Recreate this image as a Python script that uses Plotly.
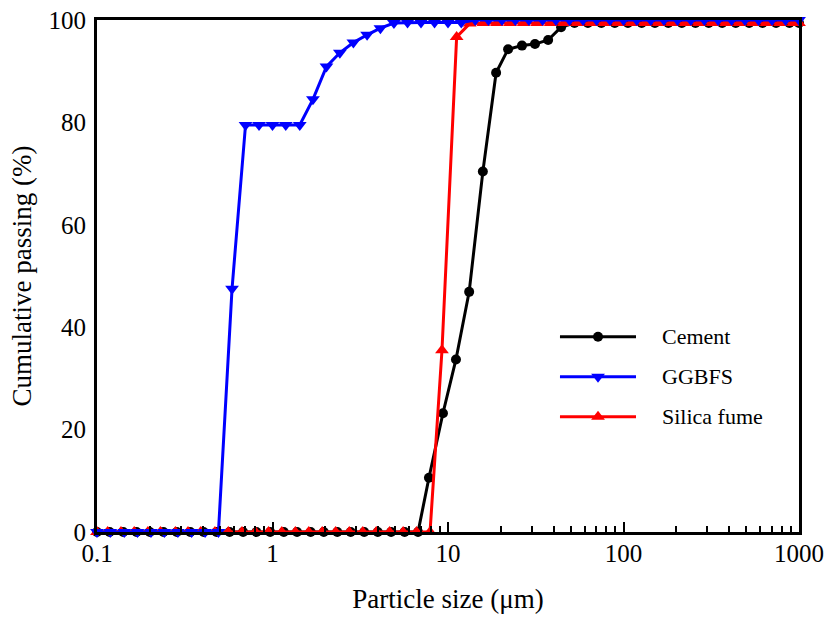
import plotly.graph_objects as go

# ---------------- data ----------------
cement_size = [0.1, 0.118, 0.141, 0.168, 0.200, 0.239, 0.285, 0.340, 0.405, 0.48,
               0.57, 0.68, 0.81, 0.97, 1.16, 1.38, 1.65, 1.96, 2.34, 2.79,
               3.33, 3.98, 4.74, 5.66, 6.75, 7.79, 9.36, 11.1, 13.2, 15.8,
               18.8, 22.0, 26.4, 31.3, 37.2, 44.1, 52.6, 62.7, 74.8, 89.2,
               106, 127, 151, 180, 215, 257, 306, 365, 436, 520,
               620, 740, 882, 1000]
cement_pass = [0] * 25 + [10.6, 23.2, 33.7, 46.9, 70.4, 89.7, 94.3, 95.0, 95.3, 96.1,
                          98.6, 99.4] + [99.4] * 17

ggbfs_size = [0.1, 0.119, 0.143, 0.170, 0.203, 0.242, 0.289, 0.346, 0.413, 0.492,
              0.588, 0.702, 0.838, 1.00, 1.19, 1.43, 1.70, 2.03, 2.42, 2.89,
              3.46, 4.12, 4.92, 5.88, 7.02, 8.38, 10.0, 11.9, 14.3, 17.0,
              20.3, 24.2, 28.9, 34.6, 41.2, 49.2, 58.8, 70.2, 83.8, 100,
              119, 143, 170, 203, 242, 289, 346, 413, 492, 588,
              702, 838, 1000]
ggbfs_pass = [0] * 10 + [47.5, 79.5, 79.5, 79.5, 79.5, 79.5, 84.5, 90.9, 93.6, 95.6,
                         97.1, 98.4, 99.4, 99.5, 99.5, 99.5, 99.5, 99.5] + [100] * 25

silica_size = [0.1, 0.115, 0.137, 0.163, 0.195, 0.23, 0.28, 0.33, 0.39, 0.47,
               0.56, 0.67, 0.80, 0.95, 1.13, 1.35, 1.61, 1.92, 2.29, 2.74,
               3.27, 3.90, 4.65, 5.55, 6.62, 7.90, 9.24, 11.2, 13.3, 15.9,
               19.0, 22.6, 27.0, 32.2, 38.5, 45.9, 54.8, 65.4, 78.1, 93.2,
               111, 133, 159, 189, 226, 270, 322, 385, 459, 548,
               654, 781, 932, 1000]
silica_pass = [0] * 26 + [35.5, 96.7, 99.3] + [99.4] * 25

x_tick_vals = [0.1, 1, 10, 100, 1000]
x_tick_text = ["0.1", "1", "10", "100", "1000"]
x_minor_vals = [0.2, 0.3, 0.4, 0.5, 0.6, 0.7, 0.8, 0.9,
                2, 3, 4, 5, 6, 7, 8, 9,
                20, 30, 40, 50, 60, 70, 80, 90,
                200, 300, 400, 500, 600, 700, 800, 900]
y_tick_vals = [0, 20, 40, 60, 80, 100]

series_names = ["Cement", "GGBFS", "Silica fume"]
series_colors = ["#000000", "#0000FF", "#FF0000"]
series_symbols = ["circle", "triangle-down", "triangle-up"]

FONT = "Liberation Serif"

fig = go.Figure()

data = {
    "Cement": (cement_size, cement_pass),
    "GGBFS": (ggbfs_size, ggbfs_pass),
    "Silica fume": (silica_size, silica_pass),
}


def msize(sym):
    return 10 if sym == "circle" else 12


draw_order = ["Cement", "Silica fume", "GGBFS"]
for name in draw_order:
    i = series_names.index(name)
    xs, ys = data[name]
    fig.add_trace(go.Scatter(
        x=xs, y=ys, mode="lines+markers", name=name,
        line=dict(color=series_colors[i], width=3),
        marker=dict(symbol=series_symbols[i], color=series_colors[i],
                    size=msize(series_symbols[i]), line=dict(width=0)),
        cliponaxis=False, showlegend=False,
    ))

# ---------------- manual legend on an overlay axis ----------------
leg_x0, leg_xm, leg_x1 = 0.6595, 0.7137, 0.7678
leg_rows = [0.3814, 0.3033, 0.2252]
for i, name in enumerate(series_names):
    fig.add_trace(go.Scatter(
        x=[leg_x0, leg_x1], y=[leg_rows[i]] * 2, mode="lines",
        line=dict(color=series_colors[i], width=3),
        xaxis="x2", yaxis="y2", showlegend=False, hoverinfo="skip"))
    fig.add_trace(go.Scatter(
        x=[leg_xm], y=[leg_rows[i]], mode="markers",
        marker=dict(symbol=series_symbols[i], color=series_colors[i],
                    size=msize(series_symbols[i])),
        xaxis="x2", yaxis="y2", showlegend=False, hoverinfo="skip"))
    fig.add_annotation(x=0.8020, y=leg_rows[i], xref="paper", yref="paper",
                       text=name, showarrow=False, xanchor="left", yanchor="middle",
                       font=dict(family=FONT, size=22, color="black"))

fig.update_layout(
    width=829, height=618,
    margin=dict(l=97, r=30, t=20, b=86, autoexpand=False),
    paper_bgcolor="white", plot_bgcolor="white",
    font=dict(family=FONT, color="black"),
    xaxis=dict(
        type="log", range=[-1, 3], automargin=False,
        tickmode="array", tickvals=x_tick_vals, ticktext=x_tick_text,
        ticks="inside", ticklen=10, tickwidth=2, tickcolor="black",
        ticklabelstandoff=-3,
        minor=dict(tickmode="array", tickvals=x_minor_vals, ticks="inside",
                   ticklen=6, tickwidth=2, tickcolor="black", showgrid=False),
        showgrid=False, zeroline=False,
        showline=True, linecolor="black", linewidth=3, mirror=True,
        tickfont=dict(family=FONT, size=25, color="black"),
        title=dict(text="Particle size (μm)", font=dict(family=FONT, size=27, color="black"),
                   standoff=24),
    ),
    yaxis=dict(
        range=[0, 100], tickmode="array", tickvals=y_tick_vals, automargin=False,
        ticks="", showgrid=False, zeroline=False, ticklabelstandoff=3,
        showline=True, linecolor="black", linewidth=3, mirror=True,
        tickfont=dict(family=FONT, size=25, color="black"),
        title=dict(text="Cumulative passing (%)", font=dict(family=FONT, size=27, color="black"),
                   standoff=10),
    ),
    xaxis2=dict(range=[0, 1], overlaying="x", visible=False, fixedrange=True),
    yaxis2=dict(range=[0, 1], overlaying="y", visible=False, fixedrange=True),
)

fig.write_html("out.html")
